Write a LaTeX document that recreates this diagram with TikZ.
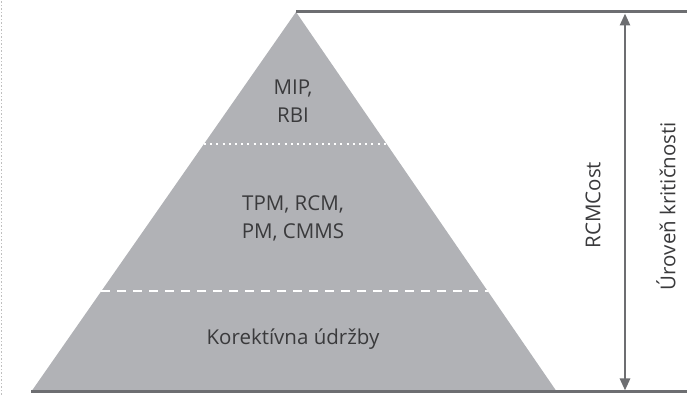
\documentclass[tikz,border=0pt]{standalone}
\usepackage{fontspec}
\setmainfont{Open Sans}
\usetikzlibrary{arrows.meta}
\definecolor{pyr}{HTML}{B1B2B6}
\definecolor{ln}{HTML}{6D6E71}
\definecolor{tx}{HTML}{3A3A3C}
\begin{document}
\begin{tikzpicture}[x=1pt,y=1pt,
  lbl/.style={text=tx,font=\fontsize{20.5}{28}\selectfont,align=center,inner sep=0pt},
  rlbl/.style={lbl,rotate=90}]
\useasboundingbox (0,0) rectangle (687,395);
% left dotted border
\draw[black!25,line width=1.5pt,dash pattern=on 1.5pt off 2pt] (1.5,0) -- (1.5,395);
% pyramid
\coordinate (apex) at (296,383);
\coordinate (bl) at (31,3);
\coordinate (br) at (557,3);
\fill[pyr] (bl) -- (apex) -- (br) -- cycle;
% separators
\coordinate (d1) at (204,251);
\coordinate (d2) at (387,251);
\coordinate (e1) at (101,104);
\coordinate (e2) at (488,104);
\draw[white,line width=2pt,dash pattern=on 2pt off 4.2pt] (d1) -- (d2);
\draw[white,line width=2pt,dash pattern=on 9pt off 7pt] (e1) -- (e2);
% frame lines
\coordinate (tr) at (687,383);
\coordinate (brr) at (687,3);
\draw[ln,line width=3pt] (apex) -- (tr);
\draw[ln,line width=3pt] (bl) -- (brr);
% arrow
\coordinate (at) at (625,381.5);
\coordinate (ab) at (625,4.5);
\draw[ln,line width=2.5pt,{Triangle[length=12pt,width=10pt]}-{Triangle[length=12pt,width=10pt]}] (at) -- (ab);
% labels
\node[lbl] (top) at (293,294) {MIP,\\RBI};
\node[lbl] (mid) at (293,177) {TPM, RCM,\\PM, CMMS};
\node[lbl] (bot) at (293,56) {Korektívna údržby};
\node[rlbl] (rc) at (593,190) {RCMCost};
\node[rlbl] (ur) at (666,189) {Úroveň kritičnosti};
\end{tikzpicture}
\end{document}
